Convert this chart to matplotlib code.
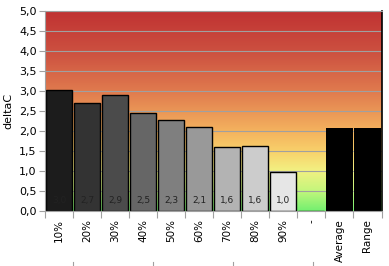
import matplotlib
matplotlib.use('Agg')
import matplotlib.pyplot as plt
import numpy as np
from matplotlib.colors import LinearSegmentedColormap
from matplotlib.lines import Line2D

# data
categories = ['10%', '20%', '30%', '40%', '50%', '60%', '70%', '80%', '90%', '-', 'Average', 'Range']
values = [3.02, 2.70, 2.91, 2.46, 2.27, 2.10, 1.59, 1.62, 0.97, 0.0, 2.07, 2.07]
bar_labels = ['3,0', '2,7', '2,9', '2,5', '2,3', '2,1', '1,6', '1,6', '1,0']
bar_colors = ['#1c1c1c', '#333333', '#4b4b4b', '#666666', '#7f7f7f', '#999999',
              '#b3b3b3', '#cccccc', '#e6e6e6', '#e6e6e6', '#000000', '#000000']
yticks = [0.0, 0.5, 1.0, 1.5, 2.0, 2.5, 3.0, 3.5, 4.0, 4.5, 5.0]

fig = plt.figure(figsize=(3.89, 2.66), dpi=100)
ax = fig.add_axes([45 / 389, 1 - 211 / 266, 336.5 / 389, 200 / 266])

# background gradient (green at 0 -> yellow -> orange -> red at 5)
cmap = LinearSegmentedColormap.from_list('bg', [
    (0.0, '#74f070'), (0.1, '#c4f67c'), (0.2, '#f2f182'), (0.3, '#f8d06a'),
    (0.4, '#f4b25e'), (0.6, '#e07a4e'), (0.8, '#cc5040'), (1.0, '#c03232')])
grad = np.linspace(0, 1, 256).reshape(-1, 1)
ax.imshow(grad, cmap=cmap, aspect='auto', origin='lower',
          extent=(-0.5, len(categories) - 0.5, 0, 5), zorder=0)

for y in yticks[1:]:
    ax.axhline(y, color='#a0a0a0', lw=0.8, zorder=1)

x = np.arange(len(categories))
n = 10
ax.bar(x[:n], values[:n], width=0.93, color=bar_colors[:n], edgecolor='black',
       linewidth=1.0, zorder=2)
ax.bar(x[n:], values[n:], width=0.965, color=bar_colors[n:], edgecolor='none', zorder=2)

for i, lab in enumerate(bar_labels):
    ax.text(x[i], 0.27, lab, ha='center', va='center', fontsize=6.5, color='#222222', zorder=3)

ax.set_xlim(-0.5, len(categories) - 0.5)
ax.set_ylim(0, 5)
ax.set_yticks(yticks)
ax.set_yticklabels([('%.1f' % v).replace('.', ',') for v in yticks], fontsize=8)
ax.set_xticks(np.arange(len(categories) + 1) - 0.5, minor=False)
ax.set_xticklabels([])
ax.set_xticks(x, minor=True)
ax.set_xticklabels(categories, minor=True, rotation=90, fontsize=7.5, va='top')
ax.tick_params(axis='x', which='major', length=5, color='#a0a0a0')
ax.tick_params(axis='x', which='minor', length=0, pad=6)
ax.tick_params(axis='y', length=4, color='#a0a0a0', pad=2)
ax.set_ylabel('deltaC', fontsize=8, labelpad=4)

for s in ['left', 'top', 'bottom']:
    ax.spines[s].set_color('#a0a0a0')
ax.spines['right'].set_color('black')
ax.spines['right'].set_linewidth(1.2)

# small marks under the labels
for px in [72.7, 152.7, 232.5, 312.5]:
    fig.add_artist(Line2D([px / 389, px / 389], [1 - 262 / 266, 1 - 265 / 266],
                          color='#a0a0a0', lw=0.8))

fig.savefig('out.png', dpi=100)
